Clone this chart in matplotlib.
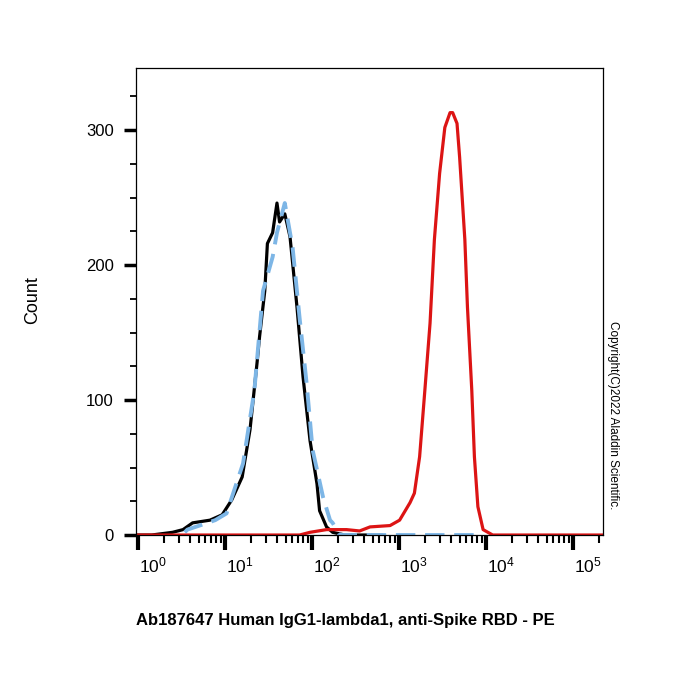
import numpy as np
import matplotlib
matplotlib.use("Agg")
import matplotlib.pyplot as plt
from matplotlib.ticker import LogLocator, MultipleLocator, NullFormatter
import matplotlib.transforms as mtransforms

plt.rcParams['font.family'] = ['Liberation Sans', 'DejaVu Sans']
plt.rcParams['mathtext.default'] = 'regular'

# histogram traces, x read as log10(fluorescence), y as count
black_logx = [-0.02, 0.16, 0.40, 0.52, 0.63, 0.83, 0.97, 1.08, 1.20, 1.29, 1.37, 1.40, 1.46, 1.49,
              1.55, 1.60, 1.63, 1.69, 1.75, 1.83, 1.90, 1.98, 2.06, 2.09, 2.17, 2.24, 2.38, 2.8]
black_count = [0, 0, 2, 4, 9, 11, 15, 26, 43, 78, 127, 147, 181, 216,
               224, 246, 232, 238, 221, 169, 117, 70, 38, 18, 6, 2, 0, 0]

blue_logx = [0.54, 0.57, 0.71, 0.89, 1.02, 1.21, 1.34, 1.44, 1.55, 1.60, 1.69, 1.78, 1.86,
             1.94, 2.01, 2.13, 2.21, 2.24, 2.32, 3.93]
blue_count = [2, 4, 7, 11, 16, 53, 107, 181, 206, 224, 246, 213, 161,
              113, 63, 28, 11, 9, 0, 0]

red_logx = [-0.02, 1.86, 1.98, 2.17, 2.40, 2.55, 2.67, 2.90, 3.01, 3.13, 3.18, 3.24, 3.30, 3.36,
            3.41, 3.47, 3.53, 3.59, 3.62, 3.67, 3.70, 3.76, 3.79, 3.84, 3.87, 3.91, 3.97, 4.08, 5.34]
red_count = [0, 0, 2, 4, 4, 3, 6, 7, 11, 24, 31, 58, 107, 157,
             219, 268, 302, 313, 313, 305, 280, 219, 169, 107, 58, 21, 4, 0, 0]

decades = [0, 1, 2, 3, 4, 5]
count_ticks = [0, 100, 200, 300]

fig = plt.figure(figsize=(7, 7), dpi=100)
ax = fig.add_axes([0.194, 0.2357, 0.667, 0.667])

ax.plot(10 ** np.array(black_logx), black_count, color='black', lw=2.3)
ax.plot(10 ** np.array(blue_logx), blue_count, color='#7db6e6', lw=2.8, dashes=(5, 2.5))
ax.plot(10 ** np.array(red_logx), red_count, color='#dc1414', lw=2.3)

ax.set_xscale('log')
ax.set_xlim(10 ** -0.023, 10 ** 5.345)
ax.set_ylim(0, 346)

ax.set_xticks([10.0 ** d for d in decades])
ax.set_xticklabels(['$10^{%d}$' % d for d in decades], fontsize=12.5)
ax.xaxis.set_minor_locator(LogLocator(base=10, subs=np.arange(2, 10), numticks=20))
ax.xaxis.set_minor_formatter(NullFormatter())
ax.tick_params(axis='x', which='major', length=11, width=3, pad=4)
ax.tick_params(axis='x', which='minor', length=6, width=1.5)

offset = mtransforms.ScaledTranslation(15 / 100, 0, fig.dpi_scale_trans)
for lab in ax.get_xticklabels():
    lab.set_transform(lab.get_transform() + offset)

ax.set_yticks(count_ticks)
ax.set_yticklabels([str(c) for c in count_ticks], fontsize=12)
ax.yaxis.set_minor_locator(MultipleLocator(25))
ax.tick_params(axis='y', which='major', length=9, width=2.5, pad=7)
ax.tick_params(axis='y', which='minor', length=4, width=1.3)

for s in ax.spines.values():
    s.set_linewidth(0.9)

fig.text(33 / 700, 1 - 300 / 700, 'Count', rotation=90, ha='center', va='center', fontsize=13)
fig.text(345 / 700, 1 - 620 / 700, 'Ab187647 Human IgG1-lambda1, anti-Spike RBD - PE',
         ha='center', va='center', fontsize=12, fontweight='bold')
fig.text(613 / 700, 1 - 415 / 700, 'Copyright(C)2022 Aladdin Scientific.', rotation=270,
         ha='center', va='center', fontsize=8.5)

fig.savefig('out.png', dpi=100)
